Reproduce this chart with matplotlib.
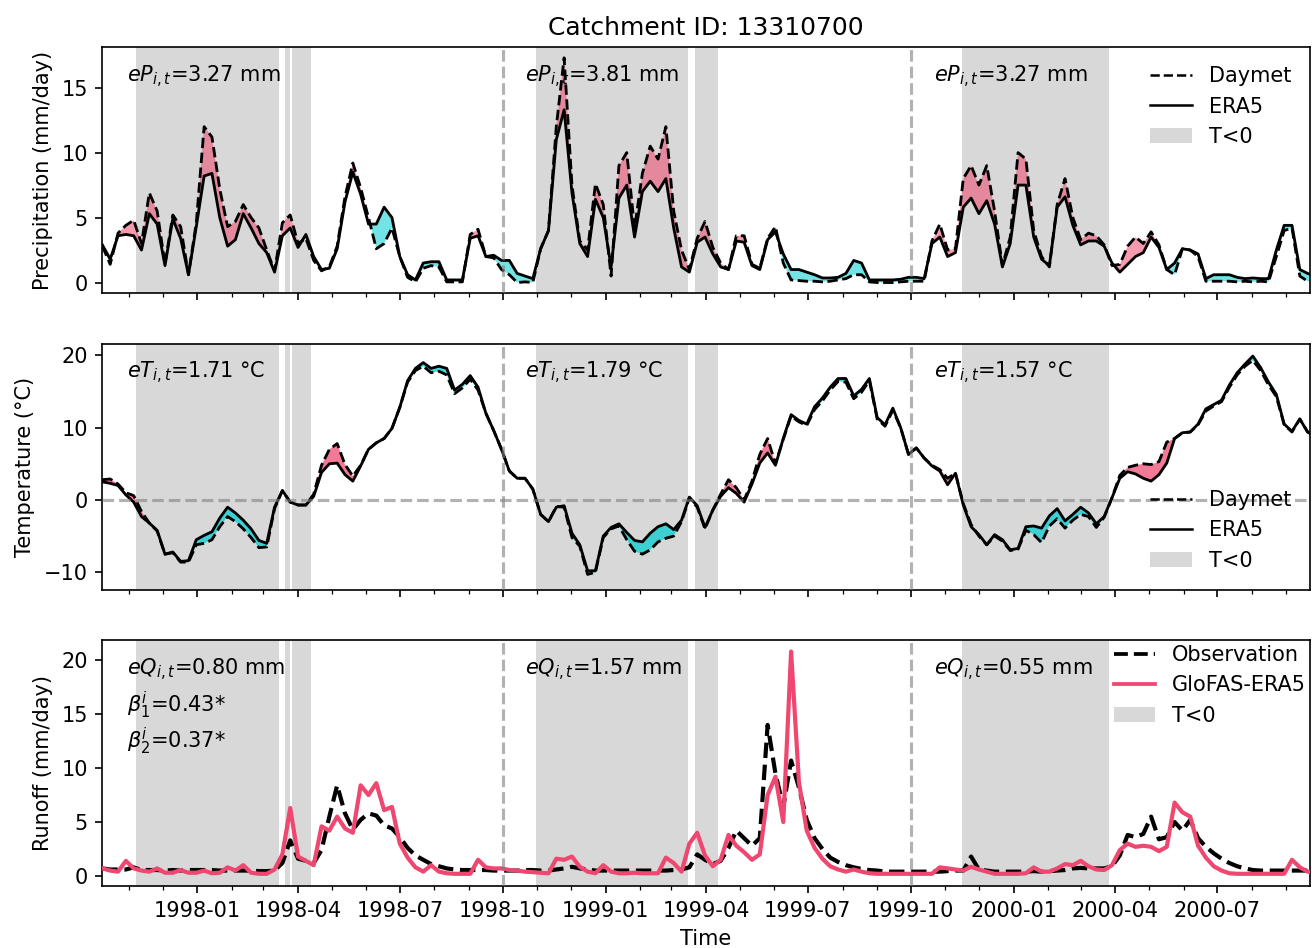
import numpy as np
import pandas as pd
import matplotlib
matplotlib.use('Agg')
import matplotlib.pyplot as plt
import matplotlib.dates as mdates
from matplotlib.lines import Line2D
from matplotlib.patches import Patch

# weekly samples
dates = pd.date_range('1997-10-08', periods=156, freq='7D')

p_era5 = [2.9, 1.8, 3.6, 3.7, 3.6, 2.5, 5.3, 4.5, 1.3, 4.9,
          3.4, 0.6, 4.3, 8.2, 8.4, 5.0, 2.8, 3.3, 5.3, 4.2,
          3.0, 2.3, 0.8, 3.6, 4.2, 2.7, 3.7, 2.0, 1.0, 1.1,
          2.6, 6.2, 8.5, 6.8, 4.5, 4.5, 5.8, 5.0, 2.0, 0.6,
          0.2, 1.5, 1.6, 1.6, 0.2, 0.2, 0.2, 3.4, 3.6, 2.0,
          2.1, 1.7, 1.7, 0.7, 0.5, 0.3, 2.6, 4.0, 11.0, 13.3,
          6.9, 3.0, 2.0, 6.4, 5.0, 1.2, 6.5, 7.5, 3.5, 7.0,
          7.8, 7.0, 8.0, 4.2, 1.2, 0.8, 3.1, 3.5, 2.2, 1.2,
          1.0, 3.2, 3.1, 1.3, 1.0, 3.3, 3.9, 2.2, 1.0, 1.0,
          0.8, 0.6, 0.35, 0.35, 0.4, 0.7, 1.7, 1.5, 0.2, 0.2,
          0.2, 0.2, 0.25, 0.4, 0.4, 0.3, 3.0, 3.5, 2.0, 2.3,
          5.8, 6.5, 5.3, 6.3, 4.5, 1.2, 3.0, 7.5, 7.5, 3.5,
          1.8, 1.3, 5.8, 6.6, 4.4, 2.9, 3.2, 3.2, 2.8, 1.5,
          0.8, 1.4, 2.0, 2.3, 3.5, 2.7, 1.0, 1.5, 2.6, 2.5,
          2.2, 0.3, 0.6, 0.6, 0.6, 0.4, 0.3, 0.35, 0.3, 0.3,
          2.5, 4.4, 4.4, 1.0, 0.7, 0.5]
p_daymet = [2.8, 1.4, 3.8, 4.4, 4.8, 3.0, 6.9, 5.5, 1.4, 5.2,
            4.3, 0.6, 4.6, 12.0, 11.2, 7.2, 4.3, 4.7, 6.0, 5.0,
            4.2, 2.5, 0.9, 4.6, 5.2, 3.0, 3.4, 1.7, 0.9, 1.2,
            2.8, 6.6, 9.2, 7.3, 5.0, 2.6, 3.0, 4.2, 2.0, 0.4,
            0.05, 1.1, 1.3, 1.2, 0.05, 0.05, 0.05, 3.7, 4.1, 2.0,
            1.9, 1.0, 0.6, 0.0, 0.05, 0.0, 2.6, 4.0, 12.0, 17.3,
            7.5, 3.2, 2.5, 7.6, 6.0, 0.5, 9.0, 10.0, 4.2, 8.4,
            10.5, 9.5, 12.0, 5.5, 2.5, 1.0, 3.4, 4.7, 2.7, 1.5,
            1.0, 3.6, 3.6, 1.4, 1.1, 3.4, 4.3, 1.5, 0.2, 0.15,
            0.1, 0.1, 0.05, 0.1, 0.2, 0.3, 0.6, 0.6, 0.05, 0.0,
            0.0, 0.0, 0.05, 0.1, 0.1, 0.1, 3.2, 4.5, 2.5, 2.6,
            8.0, 9.0, 7.5, 9.0, 5.5, 1.3, 3.5, 10.0, 9.5, 4.0,
            2.0, 1.2, 6.0, 8.0, 5.0, 3.3, 3.8, 3.6, 2.9, 1.3,
            1.4, 2.8, 3.5, 3.0, 3.9, 2.9, 1.0, 0.6, 2.6, 2.5,
            2.0, 0.1, 0.1, 0.1, 0.1, 0.05, 0.1, 0.05, 0.1, 0.05,
            2.0, 4.0, 4.2, 0.5, 0.1, 0.1]

t_era5 = [2.5, 2.3, 2.0, 0.7, -0.3, -2.3, -3.2, -4.2, -7.5, -7.2,
          -8.5, -8.4, -5.5, -4.9, -4.4, -2.5, -1.0, -1.8, -2.8, -4.0,
          -5.6, -6.0, -1.0, 1.3, -0.3, -0.7, -0.7, 0.5, 3.8, 5.0,
          5.1, 3.5, 2.6, 4.7, 7.0, 7.9, 8.5, 9.9, 12.8, 16.5,
          18.2, 19.0, 18.2, 18.5, 18.2, 15.2, 16.0, 17.2, 15.6, 12.0,
          9.6, 7.0, 4.0, 3.0, 3.0, 1.5, -2.0, -3.0, -1.0, -0.8,
          -4.6, -6.2, -9.8, -9.8, -5.0, -3.8, -3.3, -4.5, -5.6, -5.8,
          -4.6, -3.7, -3.3, -4.1, -2.8, 0.4, -0.8, -3.8, -1.4, 0.5,
          1.7, 0.9, -0.3, 2.2, 5.1, 6.5, 4.8, 8.5, 11.8, 11.0,
          10.5, 12.9, 14.1, 15.6, 16.8, 16.8, 14.4, 15.3, 16.8, 11.4,
          10.4, 12.7, 10.0, 6.3, 7.2, 5.8, 4.7, 4.0, 2.1, 3.7,
          -0.7, -3.7, -4.8, -6.2, -4.8, -5.5, -6.9, -6.7, -3.7, -3.6,
          -3.9, -2.2, -1.2, -2.9, -2.0, -1.0, -1.8, -3.3, -2.3, 0.3,
          3.0, 3.9, 3.6, 3.0, 2.6, 3.5, 5.1, 8.5, 9.3, 9.4,
          10.5, 12.6, 13.2, 13.8, 15.9, 17.6, 18.8, 19.9, 18.3, 16.3,
          14.6, 10.5, 9.5, 11.2, 9.4, 8.8]
t_daymet = [2.8, 2.9, 2.2, 1.0, 0.6, -1.6, -3.2, -4.3, -7.5, -7.3,
            -8.6, -8.6, -6.2, -6.0, -5.5, -3.7, -2.3, -3.0, -4.0, -5.2,
            -6.6, -6.5, -1.2, 1.3, -0.3, -0.7, -0.7, 0.8, 4.8, 7.0,
            7.8, 4.9, 3.3, 4.8, 7.0, 7.9, 8.5, 9.9, 12.8, 16.3,
            17.9, 18.5, 17.6, 17.8, 17.3, 14.7, 15.5, 16.7, 15.2, 12.0,
            9.6, 7.0, 4.0, 3.0, 3.0, 1.5, -2.0, -3.0, -0.9, -1.0,
            -5.2, -6.4, -10.3, -10.0, -5.2, -4.0, -3.6, -5.5, -7.1, -7.5,
            -6.9, -5.8, -5.3, -5.0, -3.0, 0.3, -1.0, -4.0, -1.4, 0.8,
            2.8, 1.7, 0.0, 2.6, 6.3, 8.5, 5.0, 8.4, 11.6, 10.8,
            10.3, 12.5, 13.7, 15.2, 16.4, 16.3, 14.0, 14.9, 16.5, 11.2,
            10.2, 12.4, 10.0, 6.3, 7.2, 5.8, 4.8, 4.2, 3.0, 3.7,
            -0.5, -3.4, -5.0, -6.2, -5.0, -5.7, -7.0, -6.8, -4.2, -4.8,
            -5.9, -3.6, -2.6, -3.9, -2.8, -2.0, -2.3, -3.8, -2.4, 0.3,
            3.4, 4.5, 4.8, 5.0, 4.9, 5.3, 8.0, 8.5, 9.3, 9.4,
            10.4, 12.3, 13.0, 13.6, 15.6, 17.3, 18.5, 19.3, 17.9, 15.9,
            14.3, 10.4, 9.4, 11.2, 9.4, 8.8]

q_obs = [0.7, 0.6, 0.6, 0.6, 0.8, 0.55, 0.55, 0.55, 0.5, 0.55,
         0.5, 0.55, 0.55, 0.55, 0.55, 0.5, 0.5, 0.5, 0.5, 0.5,
         0.45, 0.45, 0.5, 1.2, 3.3, 1.6, 1.4, 1.2, 2.4, 5.5,
         8.4, 5.8, 4.3, 5.2, 5.8, 5.6, 4.7, 4.4, 3.6, 2.6,
         1.9, 1.5, 1.1, 0.9, 0.7, 0.6, 0.55, 0.55, 0.55, 0.55,
         0.5, 0.5, 0.5, 0.5, 0.55, 0.55, 0.5, 0.5, 0.6, 0.7,
         0.85, 0.7, 0.6, 0.5, 0.5, 0.5, 0.5, 0.5, 0.5, 0.5,
         0.5, 0.5, 0.5, 0.55, 0.6, 0.8, 2.0, 1.5, 1.1, 1.4,
         2.6, 4.2, 3.5, 2.8, 3.5, 14.0, 9.5, 6.4, 10.7, 8.2,
         5.2, 3.5, 2.5, 1.7, 1.3, 1.0, 0.8, 0.65, 0.55, 0.5,
         0.4, 0.4, 0.4, 0.4, 0.4, 0.4, 0.4, 0.4, 0.45, 0.5,
         0.5, 1.8, 0.6, 0.5, 0.4, 0.4, 0.4, 0.4, 0.4, 0.45,
         0.4, 0.45, 0.5, 0.55, 0.7, 0.75, 0.7, 0.7, 0.7, 0.9,
         1.9, 3.8, 3.6, 3.9, 5.5, 3.4, 3.6, 5.0, 4.2, 5.2,
         3.5, 2.7, 2.1, 1.6, 1.2, 0.9, 0.7, 0.55, 0.5, 0.5,
         0.5, 0.5, 0.5, 0.5, 0.5, 0.5]
q_glofas = [0.7, 0.5, 0.4, 1.4, 0.7, 0.5, 0.4, 0.7, 0.3, 0.3,
            0.55, 0.3, 0.3, 0.5, 0.25, 0.3, 0.8, 0.5, 1.0, 0.3,
            0.2, 0.2, 0.6, 2.0, 6.3, 1.8, 1.4, 1.0, 4.6, 4.2,
            5.5, 4.4, 4.0, 8.4, 7.5, 8.6, 6.1, 6.4, 3.0, 1.7,
            0.8, 0.4, 1.0, 0.4, 0.25, 0.2, 0.2, 0.2, 1.5, 0.8,
            0.7, 0.7, 0.55, 0.5, 0.4, 0.35, 0.3, 0.25, 1.6, 1.5,
            1.8, 0.85, 0.4, 0.25, 1.0, 0.4, 0.25, 0.25, 0.3, 0.25,
            0.25, 0.25, 1.7, 1.2, 0.4, 3.0, 4.0, 1.9, 0.9, 1.5,
            3.8, 2.8, 2.2, 1.5, 2.0, 7.5, 9.2, 5.0, 20.8, 8.7,
            4.2, 2.6, 1.6, 0.9, 0.6, 0.4, 0.6, 0.4, 0.25, 0.2,
            0.2, 0.2, 0.2, 0.2, 0.2, 0.2, 0.2, 0.8, 0.7, 0.6,
            0.5, 0.85, 0.6, 0.4, 0.2, 0.2, 0.2, 0.2, 0.25, 0.8,
            0.4, 0.4, 0.7, 1.1, 1.0, 1.4, 0.9, 0.6, 0.55, 1.0,
            2.4, 3.0, 2.7, 2.8, 2.7, 2.3, 2.7, 6.8, 5.9, 5.5,
            2.8, 1.7, 0.9, 0.5, 0.25, 0.2, 0.2, 0.2, 0.2, 0.2,
            0.2, 0.2, 1.5, 0.8, 0.4, 0.3]

# freezing periods (T<0) and water-year starts
frost_start = ['1997-11-07', '1998-03-20', '1998-03-27', '1998-10-31', '1999-03-22', '1999-11-16']
frost_end = ['1998-03-15', '1998-03-25', '1998-04-13', '1999-03-16', '1999-04-12', '2000-03-26']
year_breaks = ['1998-10-01', '1999-10-01']

label_dates = ['1997-10-30', '1998-10-21', '1999-10-22']
ep_values = ['3.27', '3.81', '3.27']
et_values = ['1.71', '1.79', '1.57']
eq_values = ['0.80', '1.57', '0.55']
beta_values = ['0.43*', '0.37*']

PINK = '#ef476f'
CYAN = 'darkturquoise'


def shade_frost(ax):
    for s, e in zip(frost_start, frost_end):
        ax.axvspan(pd.Timestamp(s), pd.Timestamp(e), color='grey', alpha=0.3, lw=0, zorder=0)
    for d in year_breaks:
        ax.axvline(pd.Timestamp(d), color='grey', ls='--', lw=1.5, alpha=0.6, zorder=5)


def draw_forcing(ax, era5, daymet, alpha):
    era5 = np.array(era5)
    daymet = np.array(daymet)
    shade_frost(ax)
    ax.fill_between(dates, era5, daymet, where=daymet >= era5, interpolate=True,
                    color=PINK, alpha=alpha, lw=0, zorder=1)
    ax.fill_between(dates, era5, daymet, where=daymet < era5, interpolate=True,
                    color=CYAN, alpha=alpha, lw=0, zorder=1)
    ax.plot(dates, daymet, color='black', ls='--', lw=1.35, zorder=3)
    ax.plot(dates, era5, color='black', lw=1.35, zorder=3)


forcing_handles = [Line2D([], [], color='black', ls='--', lw=1.2, label='Daymet'),
                   Line2D([], [], color='black', lw=1.2, label='ERA5'),
                   Patch(color='grey', alpha=0.3, lw=0, label='T<0')]

fig, axes = plt.subplots(3, 1, figsize=(8.75, 6.32), dpi=150, sharex=True)
fig.subplots_adjust(left=0.078, right=0.998, top=0.950, bottom=0.0654, hspace=0.206)
ax_p, ax_t, ax_q = axes

# precipitation
draw_forcing(ax_p, p_era5, p_daymet, 0.55)
ax_p.set_ylim(-0.82, 18.1)
ax_p.set_yticks([0, 5, 10, 15])
ax_p.set_ylabel('Precipitation (mm/day)')
ax_p.set_title('Catchment ID: 13310700', fontsize=12)
ax_p.legend(handles=forcing_handles, loc='upper right', frameon=False)
for d, v in zip(label_dates, ep_values):
    ax_p.text(pd.Timestamp(d), 0.88, r'$eP_{i,t}$=' + v + ' mm',
              transform=ax_p.get_xaxis_transform(), va='center', fontsize=10)

# temperature
draw_forcing(ax_t, t_era5, t_daymet, 0.72)
ax_t.axhline(0, color='grey', ls='--', lw=1.5, alpha=0.6, zorder=5)
ax_t.set_ylim(-12.4, 21.6)
ax_t.set_yticks([-10, 0, 10, 20])
ax_t.set_ylabel('Temperature (°C)')
ax_t.legend(handles=forcing_handles, loc='lower right', frameon=False)
for d, v in zip(label_dates, et_values):
    ax_t.text(pd.Timestamp(d), 0.88, r'$eT_{i,t}$=' + v + ' °C',
              transform=ax_t.get_xaxis_transform(), va='center', fontsize=10)

# runoff
shade_frost(ax_q)
ax_q.plot(dates, q_obs, color='black', ls='--', lw=2.0, zorder=3, label='Observation')
ax_q.plot(dates, q_glofas, color=PINK, lw=2.0, zorder=3, label='GloFAS-ERA5')
ax_q.set_ylim(-0.93, 21.85)
ax_q.set_yticks([0, 5, 10, 15, 20])
ax_q.set_ylabel('Runoff (mm/day)')
q_handles = [Line2D([], [], color='black', ls='--', lw=1.8, label='Observation'),
             Line2D([], [], color=PINK, lw=1.8, label='GloFAS-ERA5'),
             Patch(color='grey', alpha=0.3, lw=0, label='T<0')]
ax_q.legend(handles=q_handles, loc='upper right', frameon=False, bbox_to_anchor=(1.0124, 1.057))
for d, v in zip(label_dates, eq_values):
    ax_q.text(pd.Timestamp(d), 0.88, r'$eQ_{i,t}$=' + v + ' mm',
              transform=ax_q.get_xaxis_transform(), va='center', fontsize=10)
ax_q.text(pd.Timestamp(label_dates[0]), 0.735, r'$\beta_1^i$=' + beta_values[0],
          transform=ax_q.get_xaxis_transform(), va='center', fontsize=10)
ax_q.text(pd.Timestamp(label_dates[0]), 0.59, r'$\beta_2^i$=' + beta_values[1],
          transform=ax_q.get_xaxis_transform(), va='center', fontsize=10)
ax_q.set_xlabel('Time')

ax_q.set_xlim(pd.Timestamp('1997-10-08'), pd.Timestamp('2000-09-22'))
ax_q.xaxis.set_major_locator(mdates.MonthLocator(bymonth=[1, 4, 7, 10]))
ax_q.xaxis.set_minor_locator(mdates.MonthLocator())
ax_q.xaxis.set_major_formatter(mdates.DateFormatter('%Y-%m'))

fig.savefig('out.png', dpi=150)
